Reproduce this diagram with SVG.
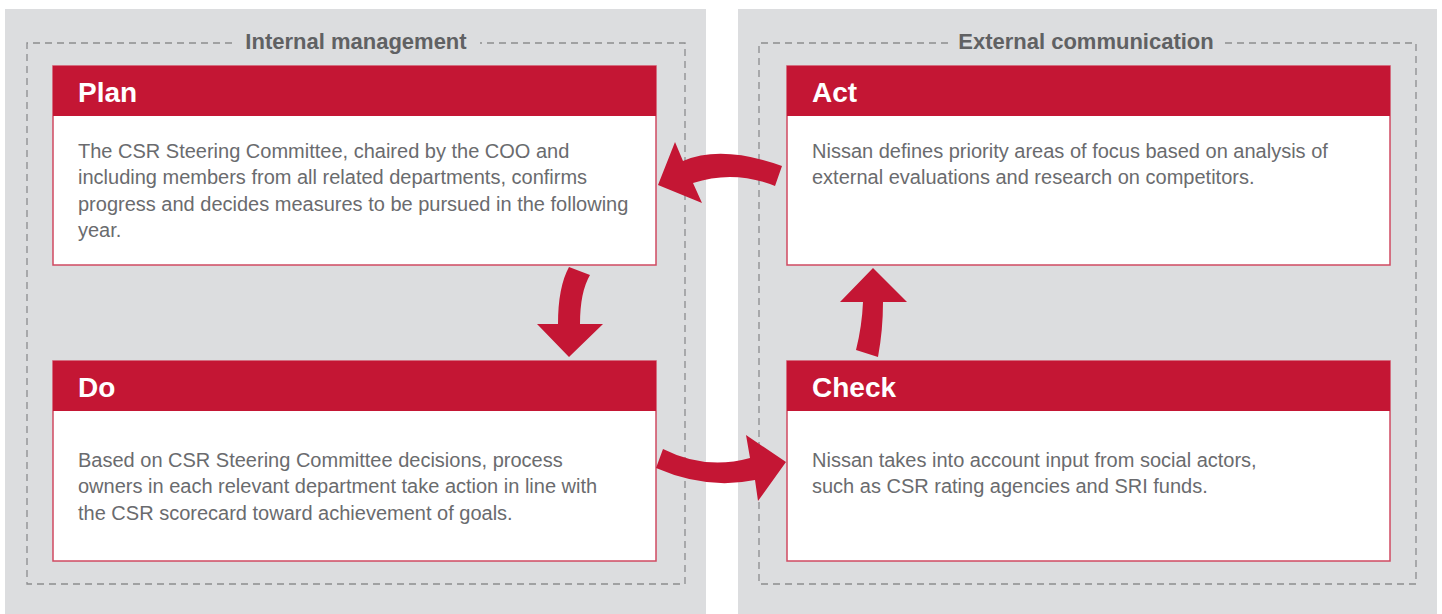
<svg xmlns="http://www.w3.org/2000/svg" width="1442" height="614" viewBox="0 0 1442 614">
  <style>
    .panel { fill: #dcdddf; }
    .frame { fill: none; stroke: #8c8d8f; stroke-width: 1.3; stroke-dasharray: 7 5; }
    .group-title { font-family: "Liberation Sans", Arial, sans-serif; font-weight: bold; font-size: 22px; fill: #606163; }
    .card { fill: #ffffff; stroke: #cf4a62; stroke-width: 1.5; }
    .head { fill: #c41634; }
    .head-text { font-family: "Liberation Sans", Arial, sans-serif; font-weight: bold; font-size: 28px; fill: #ffffff; }
    .body-text { font-family: "Liberation Sans", Arial, sans-serif; font-size: 20px; fill: #6a6b6e; }
    .arrow { fill: #c41634; }
  </style>

  <!-- background panels -->
  <rect class="panel" x="5" y="9" width="701" height="605"/>
  <rect class="panel" x="738" y="9" width="699" height="605"/>

  <!-- dashed frames with titles -->
  <g id="internal-management">
    <path class="frame" d="M232,43 H27 V584 H685 V43 H480"/>
    <text class="group-title" x="356" y="48.5" text-anchor="middle">Internal management</text>
  </g>
  <g id="external-communication">
    <path class="frame" d="M948,43 H759 V584 H1416 V43 H1224"/>
    <text class="group-title" x="1086" y="48.5" text-anchor="middle">External communication</text>
  </g>

  <!-- Plan -->
  <g id="plan">
    <rect class="card" x="53" y="66" width="603" height="199"/>
    <rect class="head" x="53" y="66" width="603" height="50"/>
    <text class="head-text" x="78" y="101.5">Plan</text>
    <text class="body-text">
      <tspan x="78" y="157.5">The CSR Steering Committee, chaired by the COO and</tspan>
      <tspan x="78" y="184">including members from all related departments, confirms</tspan>
      <tspan x="78" y="210.5">progress and decides measures to be pursued in the following</tspan>
      <tspan x="78" y="237">year.</tspan>
    </text>
  </g>

  <!-- Do -->
  <g id="do">
    <rect class="card" x="53" y="361" width="603" height="200"/>
    <rect class="head" x="53" y="361" width="603" height="50"/>
    <text class="head-text" x="78" y="396.5">Do</text>
    <text class="body-text">
      <tspan x="78" y="466.5">Based on CSR Steering Committee decisions, process</tspan>
      <tspan x="78" y="493">owners in each relevant department take action in line with</tspan>
      <tspan x="78" y="519.5">the CSR scorecard toward achievement of goals.</tspan>
    </text>
  </g>

  <!-- Act -->
  <g id="act">
    <rect class="card" x="787" y="66" width="603" height="199"/>
    <rect class="head" x="787" y="66" width="603" height="50"/>
    <text class="head-text" x="812" y="101.5">Act</text>
    <text class="body-text">
      <tspan x="812" y="157.5">Nissan defines priority areas of focus based on analysis of</tspan>
      <tspan x="812" y="184">external evaluations and research on competitors.</tspan>
    </text>
  </g>

  <!-- Check -->
  <g id="check">
    <rect class="card" x="787" y="361" width="603" height="200"/>
    <rect class="head" x="787" y="361" width="603" height="50"/>
    <text class="head-text" x="812" y="396.5">Check</text>
    <text class="body-text">
      <tspan x="812" y="466.5">Nissan takes into account input from social actors,</tspan>
      <tspan x="812" y="493">such as CSR rating agencies and SRI funds.</tspan>
    </text>
  </g>

  <!-- curved block arrows between the stages -->
  <g id="connectors">
    <!-- Plan to Do -->
    <path class="arrow" d="M569,267 L590,275 Q580,292 580,324 L603,324 L569,357 L537,324 L558,324 Q558,287 569,267 Z"/>
    <!-- Do to Check -->
    <path class="arrow" d="M663,449 Q705.5,470.5 750,458 L746,435 L786,462 L758,501 L755,480 Q706.5,490 656,468 Z"/>
    <!-- Check to Act -->
    <path class="arrow" d="M878,357 Q883,330 883,302 L907,302 L873,268 L840,302 L863,302 Q862,326 856,350 Z"/>
    <!-- Act to Plan -->
    <path class="arrow" d="M782,166 Q721.5,144.5 683,161 L675,142 L658,185 L702,203 L693,183 Q734,169.5 775,186 Z"/>
  </g>
</svg>
